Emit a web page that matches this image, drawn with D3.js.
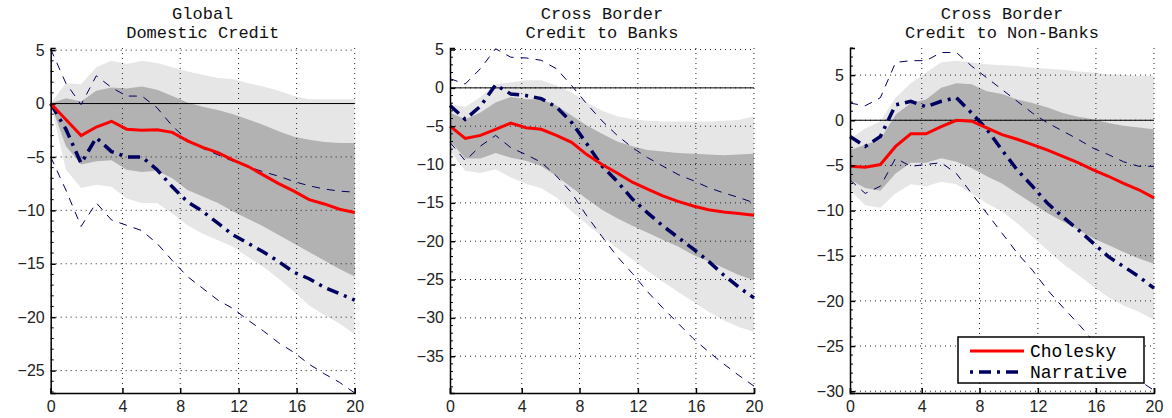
<!DOCTYPE html>
<html>
<head>
<meta charset="utf-8">
<script src="https://cdn.jsdelivr.net/npm/d3@7"></script>
<style>
  body { margin: 0; background: #fff; }
  .tick text { font-family: "Liberation Sans", Arial, sans-serif; font-size: 16px; fill: #222; }
  .title { font-family: "Liberation Mono", "DejaVu Sans Mono", monospace; font-size: 17px; fill: #111; }
  .legend text { font-family: "Liberation Mono", "DejaVu Sans Mono", monospace; font-size: 18px; }
</style>
</head>
<body>
<script>
// horizons and tick labels
var horizon = d3.range(0, 21);
var xTickLabels = ["0", "4", "8", "12", "16", "20"];
var xTickPos = [0, 4.72, 8.52, 12.36, 16.18, 20];   // MATLAB axis quirk: first gap is wider

var titles = [["Global", "Domestic Credit"], ["Cross Border", "Credit to Banks"], ["Cross Border", "Credit to Non-Banks"]];
var yDomains = [[-27.1, 5.2], [-39.8, 5.2], [-30.2, 8.0]];
var yTicks = [[-25, -20, -15, -10, -5, 0, 5], [-35, -30, -25, -20, -15, -10, -5, 0, 5], [-30, -25, -20, -15, -10, -5, 0, 5]];

// Panel 1: Global domestic credit
var chol1 = [0, -1.5, -3.0, -2.2, -1.66, -2.4, -2.5, -2.45, -2.7, -3.5, -4.1, -4.6, -5.3, -5.9, -6.7, -7.5, -8.2, -9.0, -9.4, -9.9, -10.2];
var narr1 = [0, -2.4, -5.6, -3.2, -4.5, -5.0, -5.0, -6.2, -7.8, -9.2, -10.1, -11.2, -12.3, -13.1, -13.9, -14.8, -15.8, -16.4, -17.2, -17.8, -18.4];
var narrHi1 = [5.1, 1.9, -0.1, 2.6, 1.5, 0.7, 0.7, -0.4, -2.1, -3.4, -4.2, -4.8, -5.4, -5.9, -6.4, -6.8, -7.3, -7.7, -8.0, -8.2, -8.3];
var narrLo1 = [-5.0, -8.1, -11.5, -9.3, -10.9, -11.4, -11.9, -13.1, -14.7, -16.2, -17.3, -18.4, -19.2, -20.3, -21.3, -22.4, -23.3, -24.4, -25.3, -26.1, -27.1];
var in68Hi1 = [0, 0.5, 0.2, 1.2, 1.5, 1.4, 1.6, 1.3, 0.7, 0.1, -0.3, -0.6, -1.0, -1.5, -2.0, -2.6, -3.1, -3.4, -3.6, -3.7, -3.7];
var in68Lo1 = [0, -4.0, -5.7, -5.4, -5.3, -6.2, -6.4, -6.3, -7.0, -8.1, -8.7, -9.3, -10.1, -10.8, -11.5, -12.3, -13.1, -13.9, -14.7, -15.5, -16.2];
var in90Hi1 = [0, 1.9, 1.8, 3.4, 4.0, 3.7, 4.0, 3.8, 3.4, 3.0, 2.7, 2.4, 2.3, 1.9, 1.6, 1.2, 0.7, 0.4, 0.4, 0.4, 0.4];
var in90Lo1 = [0, -6.2, -7.9, -7.6, -7.8, -8.9, -9.3, -9.3, -10.3, -11.4, -12.2, -12.8, -13.4, -14.4, -15.3, -16.4, -17.6, -18.9, -19.8, -20.6, -21.6];

// Panel 2: Cross border credit to banks
var chol2 = [-5.0, -6.6, -6.2, -5.4, -4.6, -5.2, -5.4, -6.2, -7.1, -8.7, -10.0, -11.1, -12.3, -13.2, -14.1, -14.8, -15.4, -15.9, -16.2, -16.4, -16.6];
var narr2 = [-2.3, -4.1, -2.4, 0.4, -0.8, -1.0, -1.4, -2.5, -4.5, -7.3, -10.2, -12.2, -14.5, -16.3, -18.0, -19.5, -21.0, -22.6, -24.4, -26.0, -27.4];
var narrHi2 = [1.2, 0.5, 2.5, 5.1, 4.0, 3.9, 3.6, 2.5, 0.3, -2.1, -4.3, -6.2, -7.8, -9.1, -10.2, -11.3, -12.1, -13.0, -13.7, -14.3, -15.0];
var narrLo2 = [-7.1, -9.5, -7.6, -6.2, -7.8, -8.7, -9.7, -11.5, -13.7, -16.7, -19.4, -22.0, -24.2, -26.6, -28.7, -30.7, -32.7, -34.4, -36.0, -37.5, -38.9];
var in68Hi2 = [-3.2, -4.1, -3.2, -1.9, -1.2, -1.5, -1.5, -2.3, -3.6, -4.9, -6.0, -7.0, -7.6, -8.1, -8.3, -8.5, -8.6, -8.7, -8.8, -8.7, -8.6];
var in68Lo2 = [-6.9, -9.2, -9.2, -8.5, -9.1, -9.5, -10.2, -11.5, -13.0, -14.5, -15.9, -17.0, -18.0, -18.9, -19.8, -20.7, -21.8, -22.6, -23.5, -24.4, -25.1];
var in90Hi2 = [-2.1, -2.5, -1.2, 0.5, 0.7, 1.0, 1.0, 0.3, -0.6, -1.9, -3.0, -3.7, -4.1, -4.3, -4.4, -4.4, -4.4, -4.4, -4.3, -4.2, -3.7];
var in90Lo2 = [-8.2, -10.8, -11.1, -10.6, -11.7, -12.5, -13.1, -14.3, -16.1, -17.8, -19.4, -20.9, -22.4, -23.9, -25.3, -26.6, -27.9, -29.2, -30.3, -31.2, -31.8];

// Panel 3: Cross border credit to non-banks
var chol3 = [-5.1, -5.2, -4.9, -2.9, -1.5, -1.5, -0.7, 0, -0.1, -0.85, -1.6, -2.1, -2.7, -3.3, -4.0, -4.7, -5.5, -6.2, -7.0, -7.7, -8.6];
var narr3 = [-1.8, -2.9, -1.8, 1.7, 2.1, 1.5, 2.1, 2.5, 0.8, -1.0, -3.3, -5.5, -7.3, -9.2, -10.7, -12.1, -13.6, -15.1, -16.2, -17.3, -18.6];
var narrHi3 = [1.9, 1.6, 2.5, 6.4, 6.6, 6.6, 7.5, 7.5, 6.0, 4.7, 3.4, 2.1, 0.8, -0.3, -1.2, -2.1, -3.1, -3.8, -4.6, -5.1, -5.1];
var narrLo3 = [-6.6, -8.1, -7.3, -4.2, -5.1, -4.9, -4.7, -5.9, -8.1, -10.3, -12.5, -14.7, -16.6, -18.8, -20.7, -22.5, -24.4, -25.9, -27.3, -28.8, -29.9];
var in68Hi3 = [-3.3, -2.7, -2.1, 0.6, 1.9, 2.3, 3.6, 4.1, 4.0, 3.2, 2.9, 2.3, 1.9, 1.4, 0.8, 0.4, 0.1, -0.3, -0.6, -0.8, -1.0];
var in68Lo3 = [-6.6, -7.5, -7.8, -5.9, -4.7, -4.7, -4.2, -4.6, -5.3, -6.2, -7.0, -8.1, -9.2, -10.3, -11.2, -12.1, -13.1, -13.8, -14.6, -15.3, -15.9];
var in90Hi3 = [-2.1, -0.9, -0.1, 2.5, 4.1, 5.3, 6.4, 6.6, 6.4, 6.2, 6.1, 6.0, 5.8, 5.7, 5.6, 5.4, 5.3, 5.1, 5.0, 4.9, 4.9];
var in90Lo3 = [-7.7, -9.4, -9.7, -8.1, -7.1, -7.3, -6.8, -7.1, -8.1, -9.2, -10.1, -11.4, -12.9, -14.4, -15.9, -17.1, -18.4, -19.6, -20.5, -21.2, -22.1];

var panels = [
  {chol: chol1, narr: narr1, hi: narrHi1, lo: narrLo1, b68: [in68Lo1, in68Hi1], b90: [in90Lo1, in90Hi1]},
  {chol: chol2, narr: narr2, hi: narrHi2, lo: narrLo2, b68: [in68Lo2, in68Hi2], b90: [in90Lo2, in90Hi2]},
  {chol: chol3, narr: narr3, hi: narrHi3, lo: narrLo3, b68: [in68Lo3, in68Hi3], b90: [in90Lo3, in90Hi3]}
];

var W = 1172, H = 418;
var lefts = [50.7, 450, 850], plotW = 304, plotTop = 48, plotBottom = 393;
var navy = "#000060";

var svg = d3.select("body").append("svg").attr("width", W).attr("height", H);

panels.forEach(function(p, i) {
  var g = svg.append("g").attr("transform", "translate(" + lefts[i] + ",0)");
  var x = d3.scaleLinear().domain([0, 20]).range([0, plotW]);
  var y = d3.scaleLinear().domain(yDomains[i]).range([plotBottom, plotTop]);

  function band(lo, hi) {
    return d3.area().x(function(d) { return x(d); })
      .y0(function(d, k) { return y(lo[k]); })
      .y1(function(d, k) { return y(hi[k]); })(horizon);
  }
  function line(v) {
    return d3.line().x(function(d) { return x(d); }).y(function(d, k) { return y(v[k]); })(horizon);
  }

  g.append("path").attr("d", band(p.b90[0], p.b90[1])).attr("fill", "#e6e6e6");
  g.append("path").attr("d", band(p.b68[0], p.b68[1])).attr("fill", "#b2b2b2");

  // dotted grid
  var grid = g.append("g").attr("stroke", "#222").attr("stroke-width", 1).attr("stroke-dasharray", "1,4");
  xTickPos.slice(1).forEach(function(t) {
    grid.append("line").attr("x1", x(t)).attr("x2", x(t)).attr("y1", plotTop).attr("y2", plotBottom);
  });
  yTicks[i].forEach(function(t) {
    grid.append("line").attr("x1", 0).attr("x2", plotW).attr("y1", y(t)).attr("y2", y(t));
  });

  g.append("line").attr("x1", 0).attr("x2", plotW).attr("y1", y(0)).attr("y2", y(0))
    .attr("stroke", "#000").attr("stroke-width", 1);

  g.append("path").attr("d", line(p.hi)).attr("fill", "none").attr("stroke", navy)
    .attr("stroke-width", 1).attr("stroke-dasharray", "8,7");
  g.append("path").attr("d", line(p.lo)).attr("fill", "none").attr("stroke", navy)
    .attr("stroke-width", 1).attr("stroke-dasharray", "8,7");
  g.append("path").attr("d", line(p.narr)).attr("fill", "none").attr("stroke", navy)
    .attr("stroke-width", 3.5).attr("stroke-dasharray", "12,6,3,6");
  g.append("path").attr("d", line(p.chol)).attr("fill", "none").attr("stroke", "#ff0000")
    .attr("stroke-width", 3);

  // axes
  var xAxis = d3.axisBottom(x).tickValues(xTickPos)
    .tickFormat(function(d, k) { return xTickLabels[k]; }).tickSize(-5).tickPadding(8);
  g.append("g").attr("transform", "translate(0," + plotBottom + ")").call(xAxis)
    .call(function(a) { a.selectAll("path, line").attr("stroke", "#000").attr("stroke-width", 1.5); });

  var yAxis = d3.axisLeft(y).tickValues(yTicks[i]).tickSize(-5).tickPadding(6)
    .tickFormat(function(d) { return d < 0 ? "\u2212" + Math.abs(d) : d; });
  g.append("g").call(yAxis)
    .call(function(a) { a.selectAll("path, line").attr("stroke", "#000").attr("stroke-width", 1.5); });

  // minor ticks on left axis
  var minors = d3.range(Math.ceil(yDomains[i][0]), Math.floor(yDomains[i][1]) + 1).filter(function(v) { return v % 5 !== 0; });
  g.append("g").selectAll("line").data(minors).enter().append("line")
    .attr("x1", 0).attr("x2", 3).attr("y1", function(d) { return y(d); }).attr("y2", function(d) { return y(d); })
    .attr("stroke", "#000").attr("stroke-width", 1);

  // title
  var t = g.append("text").attr("class", "title").attr("text-anchor", "middle");
  t.append("tspan").attr("x", plotW / 2).attr("y", 19).text(titles[i][0]);
  t.append("tspan").attr("x", plotW / 2).attr("y", 38).text(titles[i][1]);
});

// legend in third panel
var lg = svg.append("g").attr("class", "legend").attr("transform", "translate(958,337)");
lg.append("rect").attr("width", 186).attr("height", 46).attr("fill", "#fff").attr("stroke", "#000").attr("stroke-width", 1.5);
lg.append("line").attr("x1", 12).attr("x2", 66).attr("y1", 14).attr("y2", 14).attr("stroke", "#ff0000").attr("stroke-width", 3);
lg.append("line").attr("x1", 12).attr("x2", 66).attr("y1", 35).attr("y2", 35).attr("stroke", navy)
  .attr("stroke-width", 3.5).attr("stroke-dasharray", "3,6,12,6");
lg.append("text").attr("x", 72).attr("y", 20).text("Cholesky");
lg.append("text").attr("x", 72).attr("y", 41).text("Narrative");
</script>
</body>
</html>
